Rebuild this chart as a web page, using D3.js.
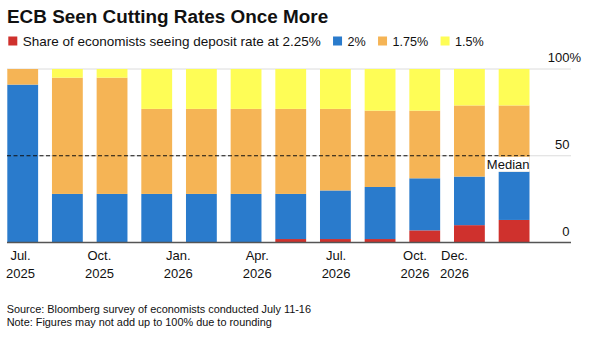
<!DOCTYPE html>
<html>
<head>
<meta charset="utf-8">
<script src="https://d3js.org/d3.v7.min.js"></script>
<style>
    body { margin: 0; background: #fff; }
    svg text { font-family: "Liberation Sans", Arial, Helvetica, sans-serif; fill: #111; }
</style>
</head>
<body>
<div id="chart"></div>
<script>
// ECB policy meetings covered by the survey
var meetings = ["Jul. 2025", "Sep. 2025", "Oct. 2025", "Dec. 2025", "Feb. 2026", "Mar. 2026",
    "Apr. 2026", "Jun. 2026", "Jul. 2026", "Sep. 2026", "Oct. 2026", "Dec. 2026"];

// share of economists (%) expecting each deposit rate
var rate225 = [0, 0, 0, 0, 0, 0, 2, 2, 2, 7, 10, 13];
var rate200 = [91, 28, 28, 28, 28, 28, 26, 28, 30, 30, 28, 28];
var rate175 = [9, 67, 67, 49, 49, 49, 49, 47, 44, 39, 41, 38];
var rate150 = [0, 5, 5, 23, 23, 23, 23, 23, 24, 24, 21, 21];

var seriesKeys = ["r225", "r200", "r175", "r150"];
var seriesLabels = ["Share of economists seeing deposit rate at 2.25%", "2%", "1.75%", "1.5%"];
var seriesColors = ["#cf312d", "#2a7bcc", "#f5b455", "#fefd56"];

var yTicks = [0, 50, 100];
var medianValue = 50;

// axis labels, placed by months after Jul. 2025
var xTickLabels = [["Jul.", "2025"], ["Oct.", "2025"], ["Jan.", "2026"], ["Apr.", "2026"],
    ["Jul.", "2026"], ["Oct.", "2026"], ["Dec.", "2026"]];
var xTickMonths = [0, 3, 6, 9, 12, 15, 16.5];


StackedBars = function (_parentElement) {
    this.parentElement = _parentElement;
    this.wrangleData();
};

StackedBars.prototype.wrangleData = function () {
    var vis = this;

    vis.data = meetings.map(function (m, i) {
        return {meeting: m, r225: rate225[i], r200: rate200[i], r175: rate175[i], r150: rate150[i]};
    });
    vis.stacked = d3.stack().keys(seriesKeys)(vis.data);

    vis.initVis();
};

StackedBars.prototype.initVis = function () {
    var vis = this;

    vis.width = 591;
    vis.height = 340;

    vis.svg = d3.select("#" + vis.parentElement).append("svg")
        .attr("width", vis.width)
        .attr("height", vis.height);

    // scales
    vis.x = d3.scaleBand()
        .domain(meetings)
        .range([7.3, 529.5])
        .paddingInner(0.31)
        .paddingOuter(0);

    vis.xm = d3.scaleLinear()
        .domain([0, 15])
        .range([20.5, 415]);

    vis.y = d3.scaleLinear()
        .domain([0, 100])
        .range([242.5, 69]);

    vis.color = d3.scaleOrdinal()
        .domain(seriesKeys)
        .range(seriesColors);

    // title
    vis.svg.append("text")
        .attr("x", 7)
        .attr("y", 22.5)
        .style("font-size", "18.9px")
        .style("font-weight", "bold")
        .text("ECB Seen Cutting Rates Once More");

    // legend
    var lx = 8.3;
    seriesKeys.forEach(function (k, i) {
        vis.svg.append("rect")
            .attr("x", lx)
            .attr("y", 36.5)
            .attr("width", 9)
            .attr("height", 9)
            .attr("fill", vis.color(k));
        var t = vis.svg.append("text")
            .attr("x", lx + 14.5)
            .attr("y", 46.3)
            .style("font-size", i === 0 ? "13.5px" : "12.6px")
            .text(seriesLabels[i]);
        lx += 14.5 + t.node().getComputedTextLength() + 12.3;
    });

    // gridlines
    vis.svg.selectAll(".grid")
        .data(yTicks.filter(function (d) { return d > 0; }))
        .enter()
        .append("line")
        .attr("class", "grid")
        .attr("x1", 7)
        .attr("x2", 571)
        .attr("y1", function (d) { return vis.y(d); })
        .attr("y2", function (d) { return vis.y(d); })
        .attr("stroke", "#dcdcdc")
        .attr("stroke-width", 1);

    // y labels, right side
    vis.svg.selectAll(".y-label")
        .data(yTicks)
        .enter()
        .append("text")
        .attr("class", "y-label")
        .attr("x", 569.5)
        .attr("y", function (d) { return vis.y(d) - 7; })
        .attr("text-anchor", "end")
        .style("font-size", "13px")
        .text(function (d) { return d; });

    vis.svg.append("text")
        .attr("x", 569.5)
        .attr("y", vis.y(100) - 7)
        .style("font-size", "13px")
        .text("%");

    // stacked bars
    vis.svg.selectAll(".layer")
        .data(vis.stacked)
        .enter()
        .append("g")
        .attr("class", "layer")
        .attr("fill", function (d) { return vis.color(d.key); })
        .selectAll("rect")
        .data(function (d) { return d; })
        .enter()
        .append("rect")
        .attr("x", function (d) { return vis.x(d.data.meeting); })
        .attr("width", vis.x.bandwidth())
        .attr("y", function (d) { return vis.y(d[1]); })
        .attr("height", function (d) { return vis.y(d[0]) - vis.y(d[1]); });

    // baseline
    vis.svg.append("line")
        .attr("x1", 7)
        .attr("x2", 571)
        .attr("y1", vis.y(0))
        .attr("y2", vis.y(0))
        .attr("stroke", "#555")
        .attr("stroke-width", 1.3);

    // median
    var lastX = vis.x(meetings[meetings.length - 1]) + vis.x.bandwidth();
    vis.svg.append("line")
        .attr("x1", 7)
        .attr("x2", lastX)
        .attr("y1", vis.y(medianValue))
        .attr("y2", vis.y(medianValue))
        .attr("stroke", "#111")
        .attr("stroke-width", 1.2)
        .attr("stroke-dasharray", "4,2.5");

    var medLabel = vis.svg.append("text")
        .attr("x", lastX)
        .attr("y", vis.y(medianValue) + 13.5)
        .attr("text-anchor", "end")
        .style("font-size", "13px")
        .text("Median");
    var bb = medLabel.node().getBBox();
    vis.svg.insert("rect", function () { return medLabel.node(); })
        .attr("x", bb.x - 1)
        .attr("y", vis.y(medianValue) + 1)
        .attr("width", bb.width + 1)
        .attr("height", bb.height)
        .attr("fill", "#fff");

    // x labels
    var xl = vis.svg.selectAll(".x-label")
        .data(xTickLabels)
        .enter()
        .append("text")
        .attr("class", "x-label")
        .attr("text-anchor", "middle")
        .style("font-size", "13px");
    xl.append("tspan")
        .attr("x", function (d, i) { return vis.xm(xTickMonths[i]); })
        .attr("y", 260.3)
        .text(function (d) { return d[0]; });
    xl.append("tspan")
        .attr("x", function (d, i) { return vis.xm(xTickMonths[i]); })
        .attr("y", 278)
        .text(function (d) { return d[1]; });

    // footer
    vis.svg.append("text")
        .attr("x", 6.7)
        .attr("y", 312.6)
        .style("font-size", "10.9px")
        .text("Source: Bloomberg survey of economists conducted July 11-16");
    vis.svg.append("text")
        .attr("x", 6.7)
        .attr("y", 325.5)
        .style("font-size", "10.9px")
        .text("Note: Figures may not add up to 100% due to rounding");
};

new StackedBars("chart");
</script>
</body>
</html>
